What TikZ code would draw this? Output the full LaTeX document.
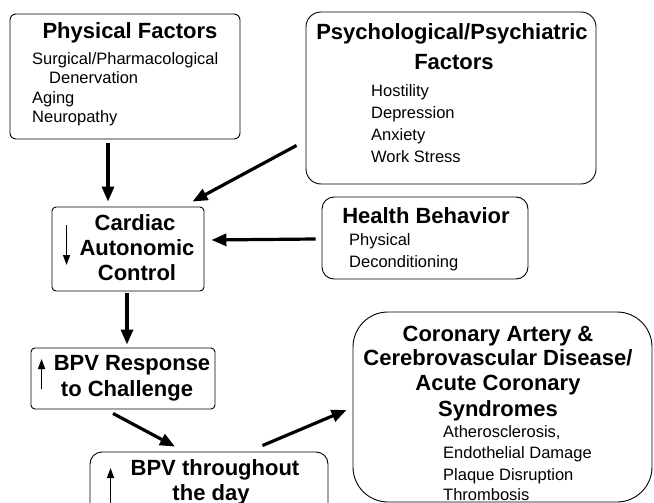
\documentclass[tikz,border=0pt]{standalone}
\usepackage{fontspec}
\setmainfont{Liberation Sans}
\usetikzlibrary{arrows.meta}
\tikzset{
  box/.style={draw, line width=0.9pt, inner sep=0pt},
  ttl/.style={anchor=base, inner sep=0pt, font=\bfseries\fontsize{22}{26}\selectfont},
  txt/.style={anchor=base west, inner sep=0pt, font=\fontsize{16.5}{20}\selectfont},
  bigarrow/.style={line width=3.2pt, -{Triangle[length=15pt,width=12pt]}},
  smallarrow/.style={line width=1.5pt, -{Triangle[length=10pt,width=7pt]}}
}
\begin{document}
\begin{tikzpicture}[x=1pt,y=-1pt]
\clip (0,0) rectangle (654,503);
\fill[white] (0,0) rectangle (654,503);
% boxes
\node[box, rounded corners=6pt, minimum width=230pt, minimum height=125pt] (phys) at (125,76.5) {};
\node[box, rounded corners=15pt, minimum width=290pt, minimum height=172pt] (psych) at (451,98) {};
\node[box, rounded corners=12pt, minimum width=206pt, minimum height=82pt] (health) at (425,238) {};
\node[box, rounded corners=4pt, minimum width=152pt, minimum height=84pt] (card) at (128,249) {};
\node[box, rounded corners=4pt, minimum width=184pt, minimum height=61pt] (bpvr) at (123,378.5) {};
\node[box, rounded corners=12pt, minimum width=238pt, minimum height=68pt] (thru) at (209,486) {};
\node[box, rounded corners=35pt, minimum width=299pt, minimum height=190pt] (cor) at (502.5,407) {};
% physical factors
\node[ttl] (t1) at (130,39) {Physical Factors};
\node[txt] (p1) at (32,65) {Surgical/Pharmacological};
\node[txt] (p2) at (49,84) {Denervation};
\node[txt] (p3) at (32,103) {Aging};
\node[txt] (p4) at (32,122) {Neuropathy};
% psych
\node[ttl] (t2) at (452,40) {Psychological/Psychiatric};
\node[ttl] (t2b) at (454,70) {Factors};
\node[txt] (s1) at (371,96) {Hostility};
\node[txt] (s2) at (371,118) {Depression};
\node[txt] (s3) at (371,140) {Anxiety};
\node[txt] (s4) at (371,162) {Work Stress};
% health
\node[ttl] (t3) at (426,223) {Health Behavior};
\node[txt] (h1) at (349,245) {Physical};
\node[txt] (h2) at (349,267) {Deconditioning};
% cardiac
\node[ttl] (c1) at (135,230) {Cardiac};
\node[ttl] (c2) at (137,255) {Autonomic};
\node[ttl] (c3) at (137,280) {Control};
% bpv response
\node[ttl] (r1) at (132,370) {BPV Response};
\node[ttl] (r2) at (127,396) {to Challenge};
% bpv throughout
\node[ttl] (u1) at (215,475) {BPV throughout};
\node[ttl] (u2) at (211,500) {the day};
% coronary
\node[ttl] (k1) at (498,341) {Coronary Artery \&};
\node[ttl] (k2) at (498,365) {Cerebrovascular Disease/};
\node[ttl] (k3) at (498,390) {Acute Coronary};
\node[ttl] (k4) at (498,416) {Syndromes};
\node[txt] (d1) at (443,437) {Atherosclerosis,};
\node[txt] (d2) at (443,458) {Endothelial Damage};
\node[txt] (d3) at (443,480) {Plaque Disruption};
\node[txt] (d4) at (443,500) {Thrombosis};
% connectors
\draw[bigarrow] ([xshift=-17pt,yshift=-4pt]phys.south) -- ([xshift=-20pt,yshift=5pt]card.north);
\draw[bigarrow] ([xshift=-9pt,yshift=39pt]psych.south west) -- ([xshift=-12pt,yshift=5pt]card.north east);
\draw[bigarrow] ([xshift=-6pt,yshift=-1pt]health.west) -- ([xshift=7pt,yshift=9pt]card.east);
\draw[bigarrow] ([xshift=-1pt,yshift=-2pt]card.south) -- ([xshift=4pt,yshift=3pt]bpvr.north);
\draw[bigarrow] ([xshift=-10pt,yshift=-4pt]bpvr.south) -- ([xshift=-34pt,yshift=5pt]thru.north);
\draw[bigarrow] ([xshift=-66pt,yshift=6pt]thru.north east) -- ([xshift=-6pt,yshift=-3pt]cor.west);
% small inner arrows
\draw[smallarrow] ([xshift=15pt,yshift=24pt]card.west) -- ([xshift=15pt,yshift=-16pt]card.west);
\draw[smallarrow] ([xshift=11pt,yshift=-10.5pt]bpvr.west) -- ([xshift=11pt,yshift=19.5pt]bpvr.west);
\draw[smallarrow] ([xshift=21pt,yshift=-26pt]thru.west) -- ([xshift=21pt,yshift=18pt]thru.west);
\end{tikzpicture}
\end{document}
